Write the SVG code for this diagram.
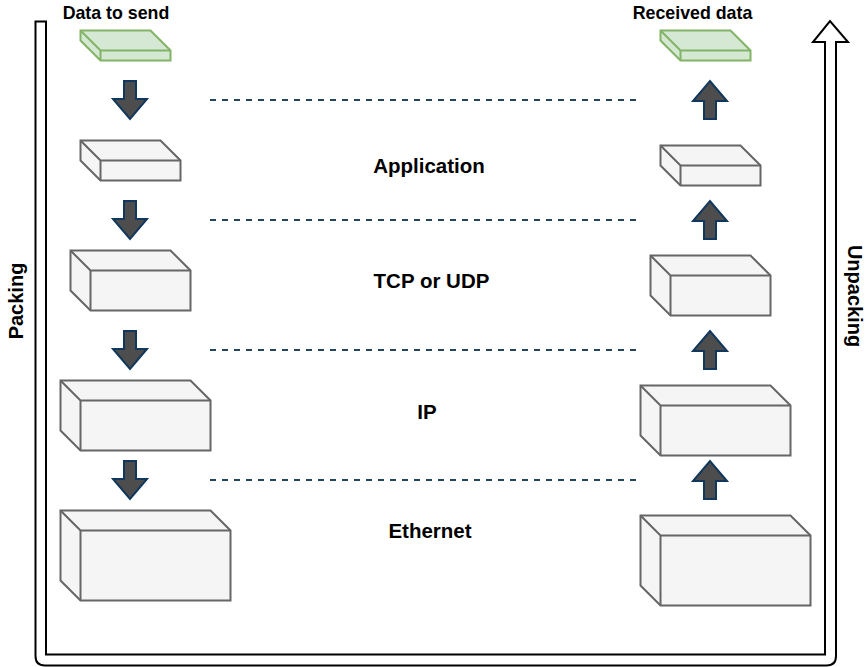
<svg xmlns="http://www.w3.org/2000/svg" width="867" height="667" viewBox="0 0 867 667">
<defs>
<style>
.cube{fill:#f5f5f5;stroke:#666666;stroke-width:2;stroke-linejoin:miter}
.green{fill:#d5e8d4;stroke:#82b366}
.edge{fill:none;stroke:#666666;stroke-width:2}
.edge.g{stroke:#82b366}
.blk{fill:#4d4d4d;stroke:#10375c;stroke-width:2;stroke-linejoin:miter}
.dash{fill:none;stroke:#23445d;stroke-width:2;stroke-dasharray:6 6}
.lbl{font-family:"Liberation Sans",Arial,Helvetica,sans-serif;font-weight:bold;fill:#000000;text-anchor:middle}
.big{font-size:20.5px}
.side{font-size:20px}
.small{font-size:17.8px}
</style>
</defs>
<rect x="0" y="0" width="867" height="667" fill="#ffffff"/>

<g id="flow-arrow">
<path d="M35.5,21.5 L46,21.5 L46,654.5 L825,654.5 L825,42 L813,42 L830,21 L848,42 L836,42 L836,656 Q836,665.5 826.5,665.5 L45,665.5 Q35.5,665.5 35.5,656 Z" fill="#ffffff" stroke="#000000" stroke-width="2" stroke-linejoin="miter"/>
</g>

<g id="connectors">
<line class="dash" x1="210" y1="100" x2="640" y2="100"/>
<line class="dash" x1="210" y1="220" x2="640" y2="220"/>
<line class="dash" x1="210" y1="350" x2="640" y2="350"/>
<line class="dash" x1="210" y1="480" x2="640" y2="480"/>
<path class="blk" d="M124,81 L136,81 L136,99 L147,99 L130,119 L113,99 L124,99 Z"/>
<path class="blk" d="M124,201 L136,201 L136,219 L147,219 L130,239 L113,219 L124,219 Z"/>
<path class="blk" d="M124,331 L136,331 L136,349 L147,349 L130,369 L113,349 L124,349 Z"/>
<path class="blk" d="M124,461 L136,461 L136,479 L147,479 L130,499 L113,479 L124,479 Z"/>
<path class="blk" d="M704,119 L716,119 L716,101 L727,101 L710,81 L693,101 L704,101 Z"/>
<path class="blk" d="M704,239 L716,239 L716,221 L727,221 L710,201 L693,221 L704,221 Z"/>
<path class="blk" d="M704,369 L716,369 L716,351 L727,351 L710,331 L693,351 L704,351 Z"/>
<path class="blk" d="M704,499 L716,499 L716,481 L727,481 L710,461 L693,481 L704,481 Z"/>
</g>

<g id="send-data">
<path class="cube green" d="M80.5,30.5 L150.5,30.5 L170.5,50.5 L170.5,60.5 L100.5,60.5 L80.5,40.5 Z"/>
<path class="edge g" d="M80.5,30.5 L100.5,50.5 L170.5,50.5 M100.5,50.5 L100.5,60.5"/>
</g>
<g id="send-app">
<path class="cube" d="M80.5,140.5 L160.5,140.5 L180.5,160.5 L180.5,180.5 L100.5,180.5 L80.5,160.5 Z"/>
<path class="edge" d="M80.5,140.5 L100.5,160.5 L180.5,160.5 M100.5,160.5 L100.5,180.5"/>
</g>
<g id="send-tcp">
<path class="cube" d="M70.5,250.5 L170.5,250.5 L190.5,270.5 L190.5,310.5 L90.5,310.5 L70.5,290.5 Z"/>
<path class="edge" d="M70.5,250.5 L90.5,270.5 L190.5,270.5 M90.5,270.5 L90.5,310.5"/>
</g>
<g id="send-ip">
<path class="cube" d="M60.5,380.5 L190.5,380.5 L210.5,400.5 L210.5,450.5 L80.5,450.5 L60.5,430.5 Z"/>
<path class="edge" d="M60.5,380.5 L80.5,400.5 L210.5,400.5 M80.5,400.5 L80.5,450.5"/>
</g>
<g id="send-eth">
<path class="cube" d="M60.5,510.5 L210.5,510.5 L230.5,530.5 L230.5,600.5 L80.5,600.5 L60.5,580.5 Z"/>
<path class="edge" d="M60.5,510.5 L80.5,530.5 L230.5,530.5 M80.5,530.5 L80.5,600.5"/>
</g>

<g id="recv-data">
<path class="cube green" d="M660.5,30.5 L730.5,30.5 L750.5,50.5 L750.5,60.5 L680.5,60.5 L660.5,40.5 Z"/>
<path class="edge g" d="M660.5,30.5 L680.5,50.5 L750.5,50.5 M680.5,50.5 L680.5,60.5"/>
</g>
<g id="recv-app">
<path class="cube" d="M660.5,145.5 L740.5,145.5 L760.5,165.5 L760.5,185.5 L680.5,185.5 L660.5,165.5 Z"/>
<path class="edge" d="M660.5,145.5 L680.5,165.5 L760.5,165.5 M680.5,165.5 L680.5,185.5"/>
</g>
<g id="recv-tcp">
<path class="cube" d="M650.5,255.5 L750.5,255.5 L770.5,275.5 L770.5,315.5 L670.5,315.5 L650.5,295.5 Z"/>
<path class="edge" d="M650.5,255.5 L670.5,275.5 L770.5,275.5 M670.5,275.5 L670.5,315.5"/>
</g>
<g id="recv-ip">
<path class="cube" d="M640.5,385.5 L770.5,385.5 L790.5,405.5 L790.5,455.5 L660.5,455.5 L640.5,435.5 Z"/>
<path class="edge" d="M640.5,385.5 L660.5,405.5 L790.5,405.5 M660.5,405.5 L660.5,455.5"/>
</g>
<g id="recv-eth">
<path class="cube" d="M640.5,515.5 L790.5,515.5 L810.5,535.5 L810.5,605.5 L660.5,605.5 L640.5,585.5 Z"/>
<path class="edge" d="M640.5,515.5 L660.5,535.5 L810.5,535.5 M660.5,535.5 L660.5,605.5"/>
</g>

<g id="labels">
<text class="lbl small" x="116" y="18.5">Data to send</text>
<text class="lbl small" x="692.5" y="18.5">Received data</text>
<text class="lbl big" x="429" y="173">Application</text>
<text class="lbl big" x="431.5" y="287.5">TCP or UDP</text>
<text class="lbl big" x="427" y="418.5">IP</text>
<text class="lbl big" x="430" y="538">Ethernet</text>
<text class="lbl side" transform="translate(22.5,301) rotate(-90)">Packing</text>
<text class="lbl side" transform="translate(848,296) rotate(90)">Unpacking</text>
</g>
</svg>
